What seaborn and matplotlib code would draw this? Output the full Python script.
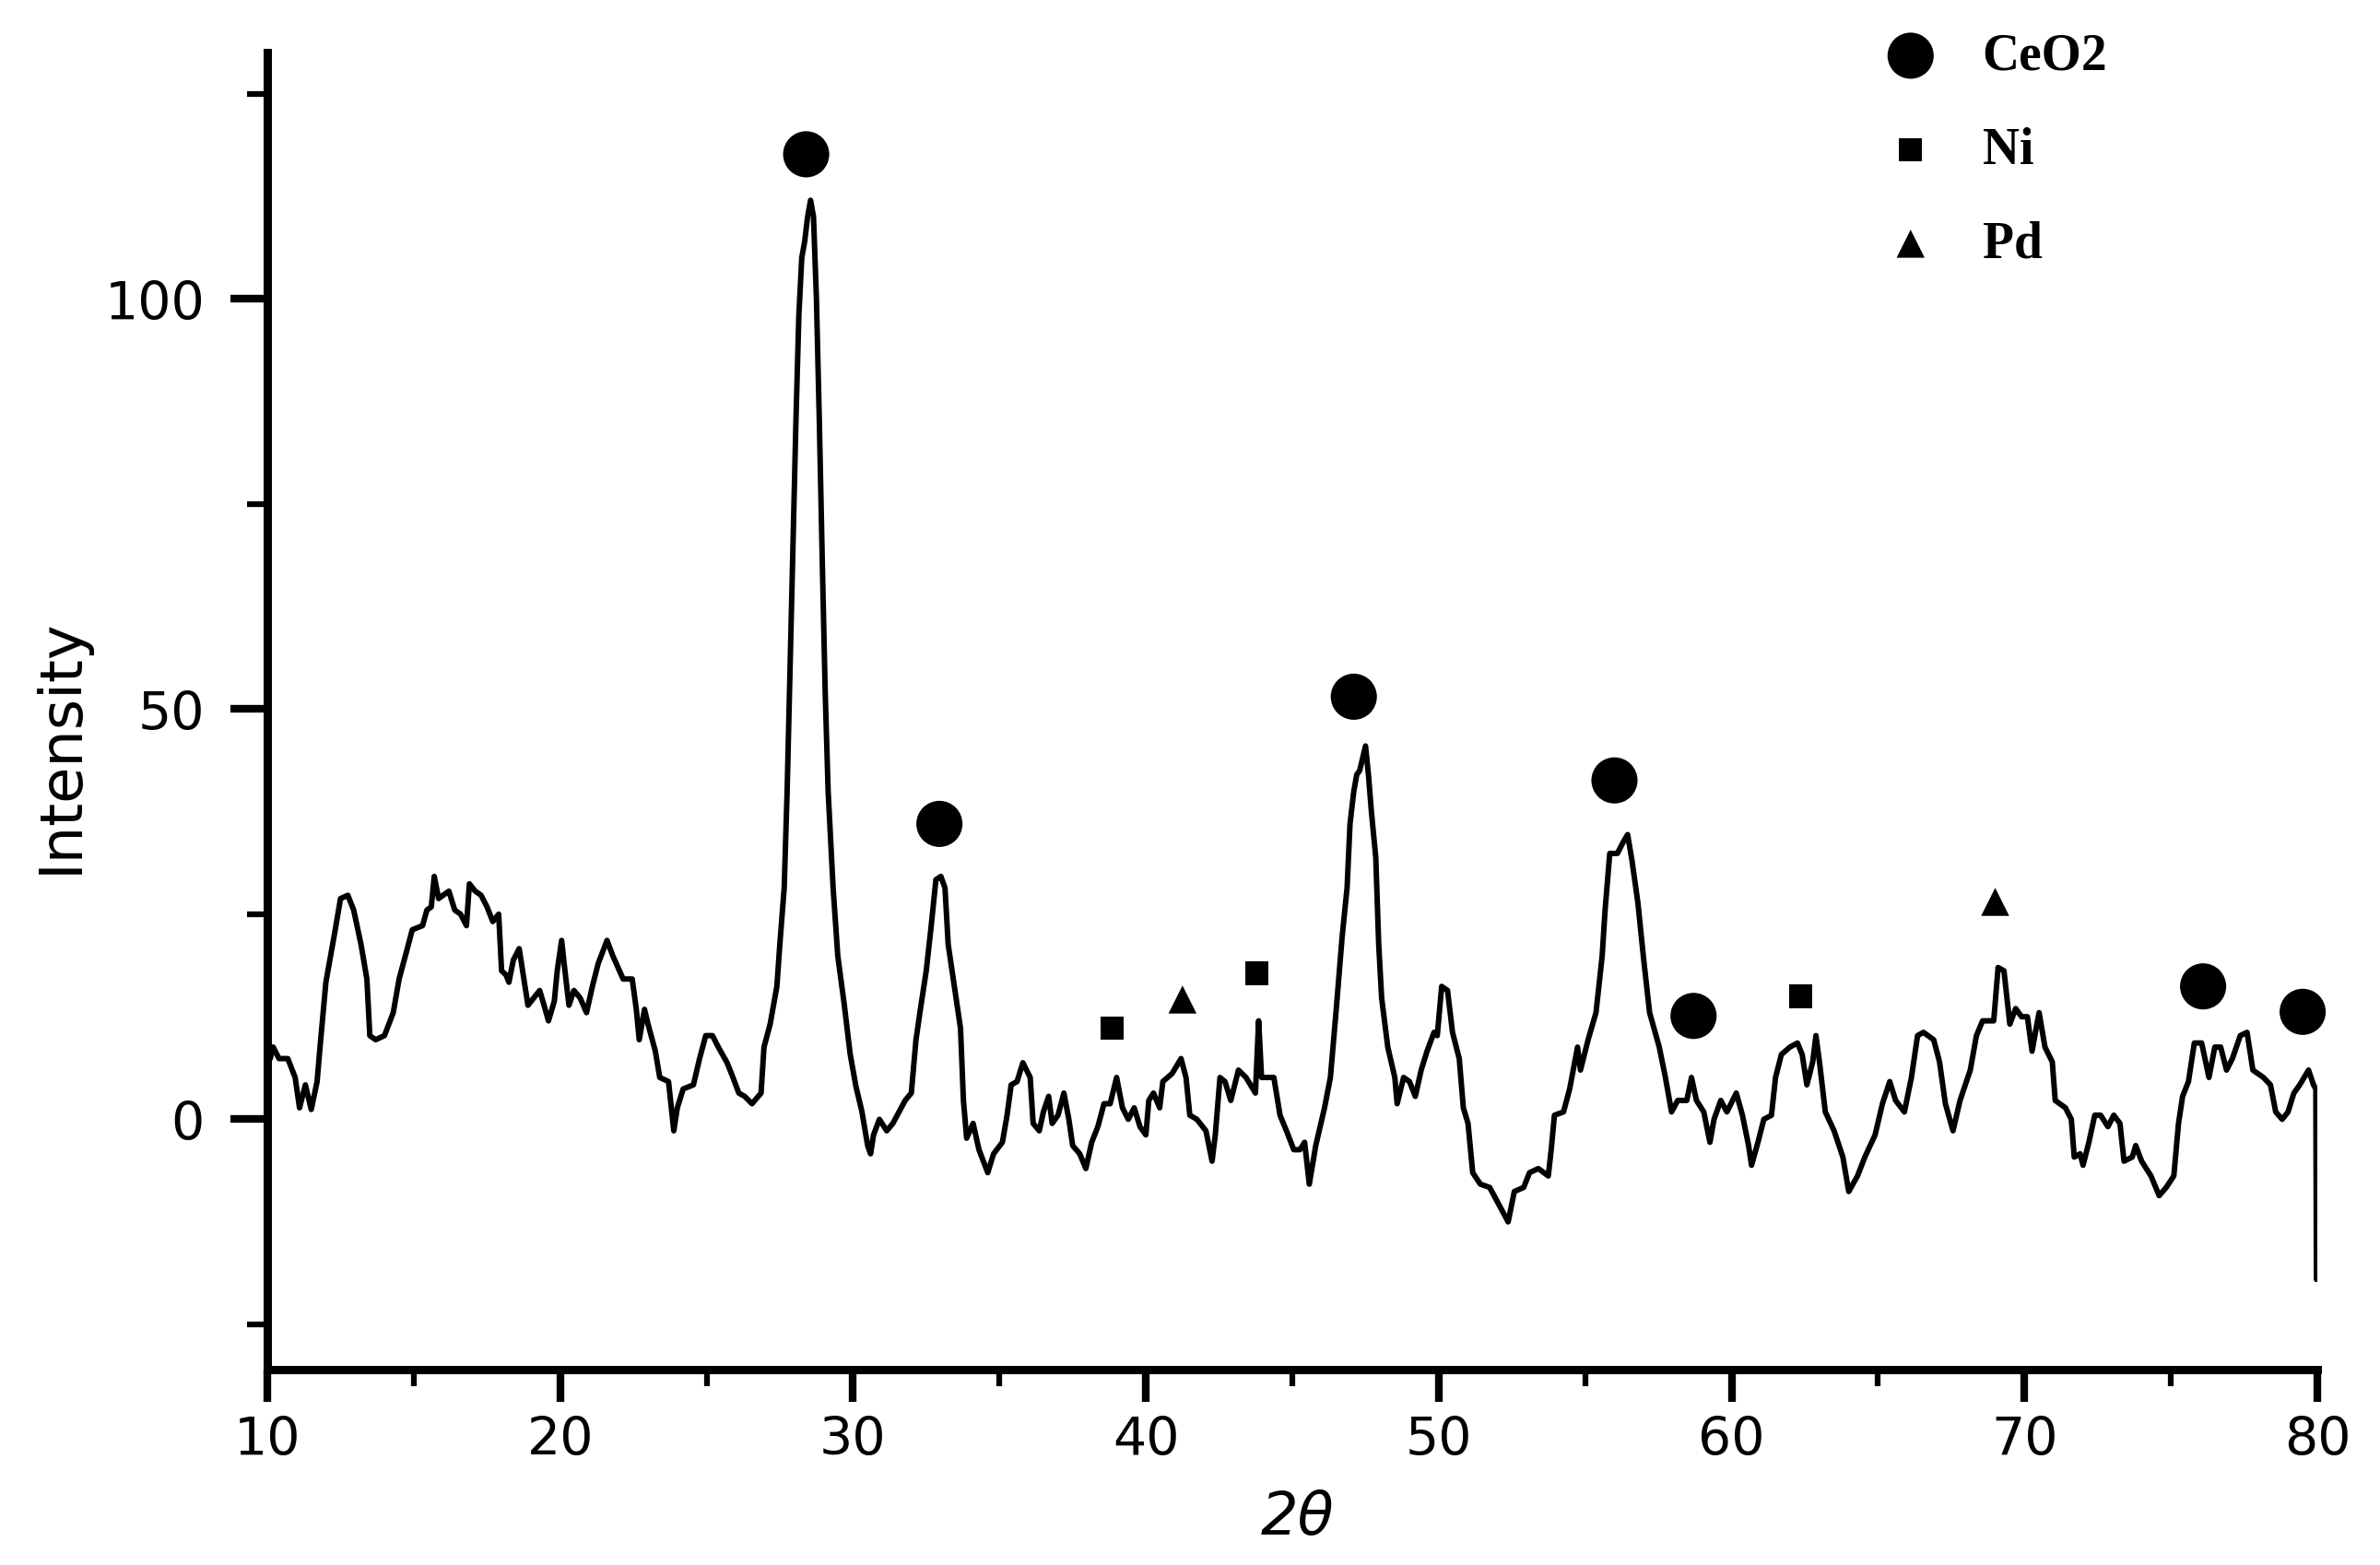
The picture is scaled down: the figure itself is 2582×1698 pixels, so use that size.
import matplotlib
matplotlib.use("Agg")
import matplotlib.pyplot as plt
import seaborn as sns

# XRD pattern
two_theta = [
    10.0, 10.05, 10.1, 10.2, 10.4, 10.7, 10.95, 11.1, 11.3, 11.5, 11.7, 11.8,
    12.0, 12.3, 12.5, 12.75, 12.95, 13.2, 13.4, 13.5, 13.7, 14.0, 14.3, 14.5,
    14.75, 14.95, 15.3, 15.45, 15.6, 15.7, 15.85, 16.0, 16.2, 16.4, 16.6, 16.8,
    16.9, 17.1, 17.3, 17.5, 17.7, 17.9, 18.0, 18.15, 18.25, 18.4, 18.6, 18.7,
    18.8, 18.9, 19.1, 19.3, 19.45, 19.6, 19.8, 19.9, 20.05, 20.15, 20.3, 20.47,
    20.68, 20.9, 21.1, 21.3, 21.6, 21.8, 22.15, 22.46, 22.6, 22.7, 22.88, 23.0,
    23.25, 23.4, 23.7, 23.88, 24.0, 24.2, 24.55, 24.76, 24.97, 25.2, 25.4, 25.7,
    25.9, 26.1, 26.3, 26.55, 26.86, 26.96, 27.17, 27.4, 27.5, 27.65, 27.75, 27.85,
    27.95, 28.05, 28.15, 28.25, 28.35, 28.45, 28.55, 28.65, 28.75, 28.85, 28.95, 29.05,
    29.15, 29.32, 29.48, 29.7, 29.9, 30.1, 30.3, 30.5, 30.6, 30.7, 30.9, 31.15,
    31.36, 31.57, 31.78, 31.99, 32.15, 32.3, 32.5, 32.67, 32.83, 33.0, 33.14, 33.25,
    33.46, 33.67, 33.77, 33.88, 34.1, 34.3, 34.6, 34.8, 35.1, 35.26, 35.4, 35.6,
    35.8, 36.05, 36.15, 36.36, 36.5, 36.68, 36.8, 37.0, 37.2, 37.37, 37.5, 37.74,
    37.95, 38.15, 38.36, 38.57, 38.78, 39.0, 39.2, 39.4, 39.6, 39.8, 40.0, 40.1,
    40.26, 40.47, 40.58, 40.9, 41.2, 41.37, 41.5, 41.74, 42.05, 42.26, 42.37, 42.53,
    42.7, 42.9, 43.16, 43.42, 43.74, 43.85, 43.95, 44.37, 44.58, 44.8, 45.05, 45.26,
    45.42, 45.58, 45.8, 46.1, 46.3, 46.5, 46.7, 46.87, 46.97, 47.1, 47.2, 47.3,
    47.4, 47.5, 47.6, 47.7, 47.85, 47.95, 48.05, 48.26, 48.5, 48.58, 48.8, 49.0,
    49.2, 49.4, 49.6, 49.84, 49.95, 50.1, 50.3, 50.47, 50.7, 50.84, 51.0, 51.16,
    51.42, 51.74, 51.95, 52.16, 52.37, 52.58, 52.9, 53.1, 53.4, 53.74, 53.84, 53.95,
    54.26, 54.47, 54.74, 54.84, 55.1, 55.37, 55.58, 55.68, 55.84, 56.1, 56.3, 56.45,
    56.6, 56.8, 57.0, 57.2, 57.53, 57.74, 57.95, 58.16, 58.47, 58.63, 58.8, 59.05,
    59.26, 59.4, 59.63, 59.84, 60.16, 60.37, 60.58, 60.68, 60.9, 61.1, 61.36, 61.5,
    61.7, 61.99, 62.25, 62.41, 62.57, 62.77, 62.88, 63.0, 63.2, 63.5, 63.8, 64.0,
    64.3, 64.55, 64.9, 65.15, 65.4, 65.6, 65.9, 66.14, 66.35, 66.55, 66.9, 67.1,
    67.3, 67.56, 67.8, 68.15, 68.36, 68.57, 68.95, 69.1, 69.3, 69.5, 69.7, 69.9,
    70.1, 70.26, 70.4, 70.5, 70.7, 70.95, 71.05, 71.4, 71.6, 71.7, 71.9, 72.0,
    72.2, 72.4, 72.6, 72.85, 73.05, 73.26, 73.4, 73.68, 73.8, 74.0, 74.32, 74.6,
    74.84, 75.1, 75.26, 75.4, 75.6, 75.8, 76.05, 76.3, 76.5, 76.7, 76.9, 77.1,
    77.37, 77.6, 77.8, 78.16, 78.4, 78.58, 78.8, 79.0, 79.2, 79.4, 79.7, 79.87,
    79.95, 79.97,
]
intensity = [
    5.0, 8.8, 7.4, 8.8, 7.4, 7.4, 5.1, 1.4, 4.2, 1.2, 4.6, 8.8,
    16.7, 22.7, 26.9, 27.3, 25.5, 21.3, 17.1, 10.2, 9.7, 10.2, 13.0, 17.1,
    20.4, 23.1, 23.6, 25.5, 25.9, 29.6, 26.9, 27.3, 27.8, 25.5, 25.0, 23.6,
    28.7, 27.8, 27.3, 25.9, 24.1, 25.0, 18.1, 17.6, 16.7, 19.4, 20.8, 18.5,
    16.2, 13.9, 14.8, 15.7, 13.9, 12.0, 14.4, 18.1, 21.8, 18.5, 13.9, 15.7,
    14.8, 13.0, 16.2, 19.0, 21.8, 19.9, 17.1, 17.1, 13.4, 9.7, 13.4, 11.6,
    8.3, 5.1, 4.6, -1.4, 1.4, 3.7, 4.2, 7.4, 10.2, 10.2, 8.8, 6.9,
    5.1, 3.2, 2.8, 1.9, 3.2, 8.8, 11.6, 16.2, 21.3, 28.2, 40.0, 55.0,
    70.0, 85.0, 98.0, 105.0, 107.0, 110.0, 112.0, 110.0, 100.0, 85.0, 68.0, 52.0,
    40.0, 28.2, 19.9, 14.0, 8.0, 4.0, 1.0, -3.2, -4.2, -1.9, 0.0, -1.4,
    -0.5, 0.9, 2.3, 3.2, 9.7, 13.4, 18.1, 23.6, 29.2, 29.6, 28.2, 21.3,
    16.2, 11.1, 2.3, -2.3, -0.5, -3.7, -6.5, -4.2, -2.8, 0.5, 4.2, 4.6,
    6.9, 5.1, -0.5, -1.4, 0.9, 2.8, -0.5, 0.5, 3.2, 0.0, -3.2, -4.2,
    -6.0, -2.8, -0.9, 1.9, 1.9, 5.1, 1.4, 0.0, 1.4, -0.9, -1.9, 2.3,
    3.2, 1.4, 4.6, 5.6, 7.4, 5.1, 0.5, 0.0, -1.4, -5.1, -1.9, 5.1,
    4.6, 2.3, 6.0, 5.1, 3.2, 12.0, 5.1, 5.1, 0.5, -1.4, -3.7, -3.7,
    -2.8, -7.9, -3.2, 1.4, 5.1, 13.4, 22.2, 28.2, 36.0, 40.0, 42.0, 42.5,
    44.0, 45.5, 42.0, 37.5, 31.9, 21.3, 14.8, 8.8, 5.1, 1.9, 5.1, 4.6,
    2.8, 6.0, 8.3, 10.6, 10.2, 16.2, 15.7, 10.6, 7.4, 1.4, -0.5, -6.5,
    -7.9, -8.3, -9.7, -11.1, -12.5, -8.8, -8.3, -6.5, -6.0, -6.9, -3.7, 0.5,
    0.9, 3.7, 8.8, 6.0, 9.7, 13.0, 19.9, 25.5, 32.4, 32.4, 33.8, 34.7,
    31.5, 26.4, 19.4, 13.0, 8.8, 5.1, 0.9, 2.3, 2.3, 5.1, 2.3, 0.9,
    -2.8, 0.0, 2.3, 0.9, 3.2, 0.5, -3.2, -5.6, -2.8, 0.0, 0.5, 5.1,
    7.9, 8.8, 9.3, 7.9, 4.2, 7.0, 10.2, 7.0, 0.9, -1.4, -4.6, -8.8,
    -6.9, -4.6, -1.9, 1.9, 4.6, 2.3, 0.9, 5.1, 10.2, 10.6, 9.7, 7.0,
    1.9, -1.4, 2.3, 6.0, 10.2, 12.0, 12.0, 18.5, 18.1, 11.6, 13.5, 12.5,
    12.5, 8.3, 11.1, 13.0, 8.8, 7.0, 2.3, 1.4, 0.0, -4.6, -4.2, -5.6,
    -2.8, 0.5, 0.5, -0.9, 0.5, -0.5, -5.1, -4.6, -3.2, -5.1, -6.9, -9.3,
    -8.3, -6.9, -0.5, 2.8, 4.6, 9.3, 9.3, 5.1, 8.8, 8.8, 6.0, 7.4,
    10.2, 10.6, 6.0, 5.1, 4.2, 0.9, 0.0, 0.9, 3.2, 4.2, 6.0, 4.2,
    3.7, -19.5,
]

# phase markers
ceo2_x = [28.4, 32.95, 47.1, 56.0, 58.7, 76.1, 79.5]
ceo2_y = [117.6, 36.0, 51.5, 41.3, 12.6, 16.2, 13.1]
ni_x = [38.85, 43.8, 62.35]
ni_y = [11.1, 17.8, 15.0]
pd_x = [41.25, 69.0]
pd_y = [14.6, 26.5]

sns.set_style("ticks")
plt.rcParams["font.family"] = ["DejaVu Sans"]
plt.rcParams["text.color"] = "black"
plt.rcParams["axes.labelcolor"] = "black"
plt.rcParams["xtick.color"] = "black"
plt.rcParams["ytick.color"] = "black"

fig = plt.figure(figsize=(25.82, 16.99), dpi=100)
ax = fig.add_axes([290 / 2582, 1 - 1487 / 1699, 2224 / 2582, 1429 / 1699])

sns.lineplot(x=two_theta, y=intensity, color="black", linewidth=4.3,
             sort=False, estimator=None, ax=ax)

sns.scatterplot(x=ceo2_x, y=ceo2_y, marker="o", s=1300, color="black",
                edgecolor="none", label="CeO2", ax=ax, clip_on=False)
sns.scatterplot(x=ni_x, y=ni_y, marker="s", s=330, color="black",
                edgecolor="none", label="Ni", ax=ax, clip_on=False)
sns.scatterplot(x=pd_x, y=pd_y, marker="^", s=480, color="black",
                edgecolor="none", label="Pd", ax=ax, clip_on=False)

ax.set_xlim(10, 80)
ax.set_ylim(-30.5, 130)
ax.set_xticks(range(10, 81, 10))
ax.set_xticks(range(15, 80, 10), minor=True)
ax.set_yticks([0, 50, 100])
ax.set_yticks([-25, 25, 75, 125], minor=True)

ax.tick_params(axis="x", which="major", length=25, width=6, pad=10, labelsize=41,
               color="black", labelcolor="black")
ax.tick_params(axis="x", which="minor", length=13, width=4.5, color="black")
ax.tick_params(axis="y", which="major", length=29, width=6, pad=20, labelsize=41,
               color="black", labelcolor="black")
ax.tick_params(axis="y", which="minor", length=16, width=4.5, color="black")

sns.despine(ax=ax)
for side in ["left", "bottom"]:
    ax.spines[side].set_linewidth(6.5)
    ax.spines[side].set_color("black")

ax.set_ylabel("Intensity", fontsize=46, va="center", color="black")
ax.yaxis.set_label_coords(-0.1007, 0.474)
ax.set_xlabel("2\u03b8", fontsize=46, fontstyle="italic", va="center", color="black")
ax.xaxis.set_label_coords(0.5027, -0.112)

leg = ax.legend(loc="upper left", bbox_to_anchor=(2045 / 2582, 1 - 36 / 1699),
                bbox_transform=fig.transFigure, frameon=False, borderpad=0,
                borderaxespad=0, handlelength=1.0, handletextpad=0.9,
                labelspacing=0.9,
                prop={"family": "Liberation Serif", "weight": "bold", "size": 40})
for t in leg.get_texts():
    t.set_color("black")

fig.savefig("out.png", dpi=100)
